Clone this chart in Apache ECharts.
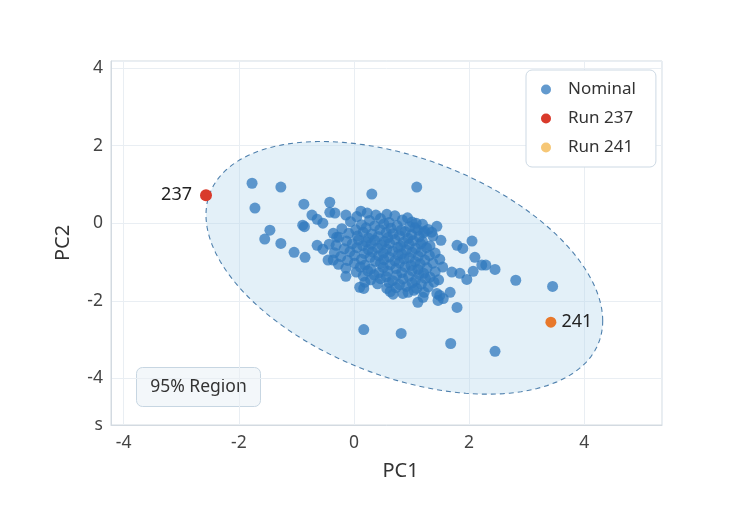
<!DOCTYPE html>
<html>
<head>
<meta charset="utf-8">
<script src="https://cdn.jsdelivr.net/npm/echarts@6/dist/echarts.min.js"></script>
<style>
html,body{margin:0;padding:0;background:#fff;}
#chart{width:729px;height:513px;}
</style>
</head>
<body>
<div id="chart"></div>
<script>
// ---- data ----
const xRange = [-4.22, 5.35];
const yRange = [-5.2, 4.18];
const xTickLabels = [-4, -2, 0, 2, 4];
const yTickLabels = [-4, -2, 0, 2, 4];
const yMinLabel = 's';

const nominalOutliers = [
  [-1.77,1.03],[-1.27,0.93],[-1.72,0.39],[-0.87,0.49],[-0.42,0.54],[0.31,0.75],[1.09,0.93],
  [-0.73,0.21],[-0.64,0.10],[-0.54,0.0],[-0.89,-0.05],[-0.86,-0.09],[-0.42,0.28],[-0.33,0.26],[-0.14,0.21],
  [-1.46,-0.18],[-1.55,-0.41],[-1.27,-0.52],[-1.04,-0.75],[-0.85,-0.88],[-0.64,-0.57],[-0.54,-0.67],
  [-0.43,-0.54],[-0.36,-0.26],[-0.30,-0.36],[-0.45,-0.95],[-0.36,-0.95],[-0.14,-1.37],[0.10,-1.65],
  [0.17,-1.68],[0.57,-1.68],[0.68,-1.83],[0.85,-1.81],[0.94,-1.78],[1.11,-2.04],[1.20,-1.91],
  [1.44,-1.81],[1.55,-1.94],[1.67,-1.78],[1.79,-2.17],[1.96,-1.45],[1.84,-1.29],[1.70,-1.26],
  [2.07,-1.24],[2.22,-1.08],[2.29,-1.08],[2.45,-1.19],[2.10,-0.88],[1.79,-0.57],[1.89,-0.65],
  [2.05,-0.46],[2.81,-1.47],[3.45,-1.63],[1.51,-0.44],[1.44,-0.08],[1.08,0.0],[1.11,-0.18],
  [1.23,-0.21],[1.35,-0.23],[0.17,-2.74],[0.82,-2.84],[1.68,-3.10],[2.45,-3.30],
  [0.12,0.31],[0.23,0.26],[0.38,0.21],[0.57,0.23],[0.19,-1.52],[1.49,-1.86],[1.46,-1.99]
];
const nominalCore = [
  [0.05,0.17],[0.46,0.12],[0.71,0.19],[0.93,0.14],
  [-0.06,0.04],[0.27,0.07],[0.61,0.02],[0.84,0.08],[1.01,0.03],
  [0.13,-0.04],[0.36,-0.07],[0.52,-0.02],[0.75,-0.06],[0.97,-0.09],[1.19,-0.03],
  [-0.21,-0.14],[0.03,-0.17],[0.21,-0.12],[0.45,-0.16],[0.64,-0.13],[0.82,-0.18],[1.06,-0.12],[1.29,-0.16],
  [-0.09,-0.26],[0.16,-0.23],[0.31,-0.28],[0.56,-0.24],[0.68,-0.27],[0.89,-0.22],[1.0,-0.3],[1.21,-0.25],
  [-0.26,-0.36],[0.06,-0.33],[0.25,-0.38],[0.42,-0.34],[0.59,-0.37],[0.79,-0.32],[0.94,-0.39],[1.13,-0.35],[1.37,-0.33],
  [-0.13,-0.46],[0.08,-0.43],[0.21,-0.48],[0.36,-0.44],[0.53,-0.47],[0.71,-0.42],[0.86,-0.49],[1.03,-0.45],[1.19,-0.47],
  [-0.31,-0.57],[-0.03,-0.53],[0.15,-0.58],[0.3,-0.54],[0.48,-0.56],[0.62,-0.52],[0.81,-0.59],[0.96,-0.55],[1.16,-0.53],[1.32,-0.58],
  [-0.17,-0.66],[0.05,-0.63],[0.25,-0.68],[0.41,-0.64],[0.57,-0.67],[0.76,-0.62],[0.91,-0.69],[1.07,-0.65],[1.26,-0.63],
  [-0.34,-0.76],[-0.07,-0.73],[0.18,-0.78],[0.32,-0.74],[0.51,-0.77],[0.67,-0.72],[0.83,-0.79],[1.01,-0.75],[1.17,-0.73],[1.41,-0.77],
  [-0.23,-0.86],[0.01,-0.83],[0.28,-0.88],[0.43,-0.84],[0.61,-0.87],[0.77,-0.82],[0.96,-0.89],[1.12,-0.85],[1.31,-0.83],
  [-0.11,-0.96],[0.13,-0.93],[0.37,-0.98],[0.52,-0.94],[0.71,-0.97],[0.87,-0.92],[1.06,-0.99],[1.23,-0.95],[1.49,-0.93],
  [-0.27,-1.06],[0.01,-1.03],[0.19,-1.08],[0.46,-1.04],[0.63,-1.07],[0.79,-1.02],[0.99,-1.09],[1.15,-1.05],[1.37,-1.03],
  [-0.14,-1.16],[0.11,-1.13],[0.29,-1.18],[0.51,-1.14],[0.73,-1.17],[0.89,-1.12],[1.11,-1.19],[1.27,-1.15],[1.54,-1.13],
  [0.04,-1.26],[0.24,-1.23],[0.43,-1.28],[0.59,-1.24],[0.83,-1.27],[1.01,-1.22],[1.21,-1.29],[1.41,-1.25],
  [0.16,-1.36],[0.35,-1.33],[0.56,-1.38],[0.74,-1.34],[0.95,-1.37],[1.13,-1.32],[1.32,-1.39],
  [0.29,-1.46],[0.46,-1.43],[0.67,-1.48],[0.85,-1.44],[1.07,-1.47],[1.24,-1.42],[1.47,-1.46],
  [0.41,-1.56],[0.61,-1.53],[0.79,-1.58],[1.01,-1.54],[1.17,-1.57],[1.39,-1.52],
  [0.73,-1.66],[0.91,-1.63],[1.09,-1.68],[1.29,-1.64],
  [0.63,-1.76],[1.04,-1.73],[1.22,-1.78]
];
const run237 = [[-2.57, 0.72]];
const run241 = [[3.42, -2.55]];
const run237Label = '237';
const run241Label = '241';
const seriesNames = ['Nominal', 'Run 237', 'Run 241'];
const regionLabel = '95% Region';
// 95% region: centre and covariance-like shape matrix (data units)
const regionCenter = [0.875, -1.15];
const regionShape = [[11.87, -4.7], [-4.7, 10.6]];

// ---- chart ----
const FONT = "'Noto Sans', 'Open Sans', sans-serif";
const chart = echarts.init(document.getElementById('chart'), null, {renderer: 'canvas'});

function isEvenInt(v) {
  return Math.abs(v - Math.round(v)) < 1e-9 && Math.round(v) % 2 === 0;
}

const option = {
  backgroundColor: '#ffffff',
  textStyle: {fontFamily: FONT},
  animation: false,
  grid: {
    left: 111, right: 67, top: 61, bottom: 88,
    show: true, borderColor: '#d3dae1', borderWidth: 1, backgroundColor: 'transparent'
  },
  legend: {
    data: seriesNames,
    orient: 'vertical',
    left: 526, top: 70,
    itemWidth: 34, itemHeight: 10, itemGap: 12,
    padding: [11, 20, 11, 15],
    backgroundColor: '#ffffff',
    borderColor: '#cdd9e4', borderWidth: 1, borderRadius: 6,
    icon: 'circle',
    textStyle: {fontSize: 17, color: '#333', fontFamily: FONT, lineHeight: 17}
  },
  xAxis: {
    type: 'value', min: xRange[0], max: xRange[1],
    name: 'PC1', nameLocation: 'middle', nameGap: 36,
    nameTextStyle: {fontSize: 20, color: '#333', fontFamily: FONT, padding: [0, 0, 0, 28]},
    axisLine: {show: true, onZero: false, lineStyle: {color: '#d3dae1'}},
    axisTick: {show: false},
    axisLabel: {
      fontSize: 17.5, color: '#444', margin: 9, fontFamily: FONT,
      formatter: v => (isEvenInt(v) && xTickLabels.indexOf(Math.round(v)) >= 0) ? String(Math.round(v)) : ''
    },
    splitLine: {show: true, lineStyle: {color: '#e9eef3'}}
  },
  yAxis: {
    type: 'value', min: yRange[0], max: yRange[1],
    name: 'PC2', nameLocation: 'middle', nameGap: 38,
    nameTextStyle: {fontSize: 20, color: '#333', fontFamily: FONT},
    axisLine: {show: true, onZero: false, lineStyle: {color: '#d3dae1'}},
    axisTick: {show: false},
    axisLabel: {
      fontSize: 17.5, color: '#444', margin: 8, fontFamily: FONT,
      showMinLabel: true, showMaxLabel: true,
      formatter: v => {
        if (Math.abs(v - yRange[0]) < 1e-6) return yMinLabel;
        return (isEvenInt(v) && yTickLabels.indexOf(Math.round(v)) >= 0) ? String(Math.round(v)) : '';
      }
    },
    splitLine: {show: true, lineStyle: {color: '#e9eef3'}}
  },
  series: [
    {
      name: 'region', type: 'custom', silent: true, z: 1,
      data: [regionCenter],
      renderItem: function (params, api) {
        const a = Math.sqrt(regionShape[0][0]);
        const b = regionShape[0][1] / a;
        const c = Math.sqrt(regionShape[1][1] - b * b);
        const pts = [];
        for (let i = 0; i < 180; i++) {
          const t = i / 180 * Math.PI * 2;
          const x = regionCenter[0] + a * Math.cos(t);
          const y = regionCenter[1] + b * Math.cos(t) + c * Math.sin(t);
          pts.push(api.coord([x, y]));
        }
        return {
          type: 'polygon',
          shape: {points: pts},
          style: {
            fill: 'rgba(178, 214, 236, 0.36)',
            stroke: '#4f80ad', lineWidth: 1.1, lineDash: [5, 4]
          }
        };
      }
    },
    {
      name: 'Nominal', type: 'scatter', z: 3,
      symbolSize: 11,
      itemStyle: {color: '#2f78bd', opacity: 0.75},
      data: nominalOutliers.concat(nominalCore)
    },
    {
      name: 'Run 237', type: 'scatter', z: 4,
      symbolSize: 12,
      itemStyle: {color: '#d93a2b', opacity: 1},
      label: {show: true, position: 'left', distance: 8, formatter: run237Label,
        fontSize: 18, color: '#222', fontFamily: FONT},
      data: run237
    },
    {
      name: 'Run 241', type: 'scatter', z: 4,
      symbolSize: 11,
      itemStyle: {color: '#f6c776', opacity: 1},
      label: {show: true, position: 'right', distance: 5, formatter: run241Label,
        fontSize: 18, color: '#222', fontFamily: FONT},
      data: run241.map(p => ({value: p, itemStyle: {color: '#e8782b'}}))
    }
  ],
  graphic: [
    {
      type: 'group', left: 136, top: 367, z: 10,
      children: [
        {type: 'rect', shape: {x: 0, y: 0, width: 124, height: 39, r: 6},
          style: {fill: '#f3f7fa', stroke: '#c7d6e2', lineWidth: 1}},
        {type: 'text', x: 62, y: 19.5,
          style: {text: regionLabel, fontSize: 17.5, fill: '#333', fontFamily: FONT,
            align: 'center', verticalAlign: 'middle'}}
      ]
    }
  ]
};
chart.setOption(option);
</script>
</body>
</html>
